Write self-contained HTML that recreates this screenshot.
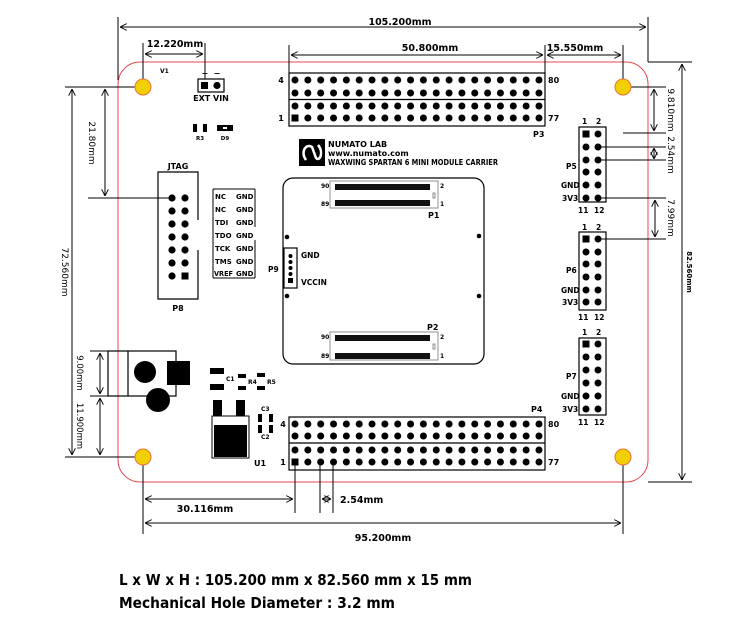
<!DOCTYPE html>
<html><head><meta charset="utf-8"><style>
html,body{margin:0;padding:0;background:#fff;}
svg{display:block;}
text{font-family:"DejaVu Sans","Liberation Sans",sans-serif;font-weight:bold;fill:#000;}
.r{font-weight:normal;}
</style></head><body>
<svg id="s" width="754" height="630" viewBox="0 0 754 630" xmlns="http://www.w3.org/2000/svg">
<defs>
<marker id="a" viewBox="0 0 10 10" refX="10" refY="5" markerWidth="7" markerHeight="7" orient="auto-start-reverse"><path d="M0,0 L10,5 L0,10" fill="none" stroke="#000" stroke-width="1.3"/></marker>
</defs>
<rect width="754" height="630" fill="#fff"/>
<rect x="118" y="62" width="530" height="420" rx="22" fill="none" stroke="#e8474c" stroke-width="1"/>
<g stroke="#000" stroke-width="1" fill="none">
<line x1="118" y1="17" x2="118" y2="80"/>
<line x1="648" y1="17" x2="648" y2="62"/>
<line x1="120" y1="27" x2="646" y2="27" marker-start="url(#a)" marker-end="url(#a)"/>
<line x1="143" y1="43" x2="143" y2="80"/>
<line x1="205" y1="43" x2="205" y2="79"/>
<line x1="145" y1="54" x2="203" y2="54" marker-start="url(#a)" marker-end="url(#a)"/>
<line x1="289" y1="45" x2="289" y2="73"/>
<line x1="545" y1="45" x2="545" y2="73"/>
<line x1="623" y1="45" x2="623" y2="80"/>
<line x1="291" y1="55" x2="543" y2="55" marker-start="url(#a)" marker-end="url(#a)"/>
<line x1="547" y1="55" x2="621" y2="55" marker-start="url(#a)" marker-end="url(#a)"/>
<line x1="631" y1="87" x2="666" y2="87"/>
<line x1="623" y1="133" x2="666" y2="133"/>
<line x1="654" y1="89" x2="654" y2="131" marker-start="url(#a)" marker-end="url(#a)"/>
<line x1="598" y1="147" x2="666" y2="147"/>
<line x1="598" y1="160" x2="666" y2="160"/>
<line x1="654" y1="148" x2="654" y2="159" marker-start="url(#a)" marker-end="url(#a)"/>
<line x1="598" y1="198" x2="666" y2="198"/>
<line x1="598" y1="239" x2="666" y2="239"/>
<line x1="655" y1="200" x2="655" y2="237" marker-start="url(#a)" marker-end="url(#a)"/>
<line x1="648" y1="62" x2="692" y2="62"/>
<line x1="648" y1="482" x2="692" y2="482"/>
<line x1="682" y1="64" x2="682" y2="480" marker-start="url(#a)" marker-end="url(#a)"/>
<line x1="65" y1="87" x2="135" y2="87"/>
<line x1="65" y1="457" x2="135" y2="457"/>
<line x1="72" y1="89" x2="72" y2="455" marker-start="url(#a)" marker-end="url(#a)"/>
<line x1="105" y1="89" x2="105" y2="196" marker-start="url(#a)" marker-end="url(#a)"/>
<line x1="88" y1="198" x2="172" y2="198"/>
<line x1="90" y1="351" x2="108" y2="351"/>
<line x1="90" y1="396" x2="130" y2="396"/>
<line x1="100" y1="353" x2="100" y2="394" marker-start="url(#a)" marker-end="url(#a)"/>
<line x1="100" y1="398" x2="100" y2="455" marker-start="url(#a)" marker-end="url(#a)"/>
<line x1="143" y1="465" x2="143" y2="534"/>
<line x1="623" y1="465" x2="623" y2="534"/>
<line x1="295" y1="462" x2="295" y2="513"/>
<line x1="320" y1="462" x2="320" y2="513"/>
<line x1="333" y1="462" x2="333" y2="513"/>
<line x1="145" y1="499" x2="293" y2="499" marker-start="url(#a)" marker-end="url(#a)"/>
<line x1="322" y1="499" x2="331" y2="499" marker-start="url(#a)" marker-end="url(#a)"/>
<line x1="145" y1="523" x2="621" y2="523" marker-start="url(#a)" marker-end="url(#a)"/>
</g>
<g fill="#f2cf00" stroke="#e8713c" stroke-width="1">
<circle cx="143" cy="87" r="8"/><circle cx="623" cy="87" r="8"/>
<circle cx="143" cy="457" r="8"/><circle cx="623" cy="457" r="8"/>
</g>
<g font-size="9.5">
<text x="400" y="25" text-anchor="middle">105.200mm</text>
<text x="175" y="47" text-anchor="middle">12.220mm</text>
<text x="430" y="51" text-anchor="middle">50.800mm</text>
<text x="575" y="51" text-anchor="middle">15.550mm</text>
<text x="205" y="512" text-anchor="middle">30.116mm</text>
<text x="340" y="503">2.54mm</text>
<text x="383" y="541" text-anchor="middle">95.200mm</text>
</g>
<g font-size="9" class="r">
<text class="r" transform="translate(668,110) rotate(90)" text-anchor="middle">9.810mm</text>
<text class="r" transform="translate(668,155) rotate(90)" text-anchor="middle">2.54mm</text>
<text class="r" transform="translate(668,218) rotate(90)" text-anchor="middle">7.99mm</text>
<text transform="translate(687,272) rotate(90)" text-anchor="middle" font-size="7">82.560mm</text>
<text class="r" transform="translate(62,272) rotate(90)" text-anchor="middle">72.560mm</text>
<text class="r" transform="translate(89,143) rotate(90)" text-anchor="middle">21.80mm</text>
<text class="r" transform="translate(77,373) rotate(90)" text-anchor="middle" font-size="8.5">9.00mm</text>
<text class="r" transform="translate(77,426) rotate(90)" text-anchor="middle" font-size="8.5">11.900mm</text>
</g>
<g font-size="8">
<text x="160" y="73" font-size="6">V1</text>
<text x="205" y="76" text-anchor="middle">+</text>
<text x="217" y="76" text-anchor="middle">−</text>
<text x="211" y="101" text-anchor="middle">EXT VIN</text>
</g>
<rect x="198" y="79" width="26" height="13" fill="none" stroke="#000" stroke-width="1.2"/>
<rect x="201" y="82" width="7" height="7"/><circle cx="217" cy="85.5" r="3.6"/>
<rect x="193" y="124" width="4" height="8"/><rect x="203" y="124" width="4" height="8"/>
<rect x="217" y="125" width="16" height="6"/><rect x="223" y="127" width="4" height="2" fill="#fff"/>
<text x="200" y="140" font-size="5.5" text-anchor="middle">R3</text>
<text x="225" y="140" font-size="5.5" text-anchor="middle">D9</text>
<rect x="299" y="139" width="26" height="27"/>
<path d="M306,160 C300,152 306,143 312,147 L316,158 C320,162 324,152 318,145" fill="none" stroke="#fff" stroke-width="2.5"/>
<g font-size="8" font-family="DejaVu Sans Mono,Liberation Mono,monospace">
<text x="328" y="147">NUMATO LAB</text>
<text x="328" y="156">www.numato.com</text>
<text x="328" y="165" textLength="170" lengthAdjust="spacingAndGlyphs">WAXWING SPARTAN 6 MINI MODULE CARRIER</text>
</g>
<g fill="none" stroke="#000" stroke-width="1.2">
<rect x="289" y="73" width="256" height="53"/><line x1="289" y1="99.5" x2="545" y2="99.5"/>
<rect x="289" y="417" width="256" height="53"/><line x1="289" y1="443" x2="545" y2="443"/>
</g>
<g font-size="8">
<text x="281" y="83" text-anchor="middle">4</text><text x="281" y="121" text-anchor="middle">1</text>
<text x="548" y="83">80</text><text x="548" y="121">77</text><text x="533" y="137">P3</text>
<text x="283" y="427" text-anchor="middle">4</text><text x="283" y="465" text-anchor="middle">1</text>
<text x="548" y="427">80</text><text x="548" y="465">77</text><text x="531" y="412">P4</text>
</g>
<g id="dots"></g>
<text x="178" y="169" font-size="8" text-anchor="middle">JTAG</text>
<text x="178" y="311" font-size="8" text-anchor="middle">P8</text>
<path d="M198,220 V172 H158 V299 H198 V250" fill="none" stroke="#000" stroke-width="1.2"/>
<g fill="none" stroke="#000" stroke-width="1"><line x1="213" y1="189" x2="213" y2="278"/><line x1="213" y1="278" x2="255" y2="278"/><line x1="213" y1="189" x2="255" y2="189"/><line x1="255" y1="189" x2="255" y2="227"/><line x1="255" y1="240" x2="255" y2="278"/></g>
<g font-size="7">
<text x="215" y="199">NC</text><text x="236" y="199">GND</text>
<text x="215" y="212">NC</text><text x="236" y="212">GND</text>
<text x="215" y="225">TDI</text><text x="236" y="225">GND</text>
<text x="215" y="238">TDO</text><text x="236" y="238">GND</text>
<text x="215" y="251">TCK</text><text x="236" y="251">GND</text>
<text x="215" y="264">TMS</text><text x="236" y="264">GND</text>
<text x="214" y="276" textLength="19" lengthAdjust="spacingAndGlyphs">VREF</text><text x="236" y="276">GND</text>
</g>
<rect x="283" y="178" width="201" height="186" rx="10" fill="none" stroke="#000" stroke-width="1.2"/>
<g fill="none" stroke="#777" stroke-width="0.8"><rect x="330" y="181" width="108" height="27"/><rect x="330" y="332" width="108" height="28"/>
<rect x="433" y="193" width="2" height="5"/><rect x="433" y="344" width="2" height="5"/></g>
<g fill="#111"><rect x="335" y="184" width="95" height="6"/><rect x="335" y="200" width="95" height="6"/><rect x="335" y="335" width="95" height="6"/><rect x="335" y="353" width="95" height="6"/></g>
<g font-size="6"><text x="321" y="188">90</text><text x="321" y="206">89</text><text x="440" y="188">2</text><text x="440" y="206">1</text>
<text x="321" y="339">90</text><text x="321" y="358">89</text><text x="440" y="339">2</text><text x="440" y="358">1</text></g>
<text x="428" y="218" font-size="8">P1</text><text x="427" y="330" font-size="8">P2</text>
<circle cx="287" cy="237" r="2.3"/><circle cx="287" cy="296" r="2.3"/><circle cx="479" cy="236" r="2.3"/><circle cx="479" cy="296" r="2.3"/>
<rect x="284" y="248" width="13" height="40" fill="none" stroke="#000" stroke-width="1.2"/>
<g><circle cx="290.5" cy="256" r="2"/><circle cx="290.5" cy="262" r="2"/><circle cx="290.5" cy="268" r="2"/><circle cx="290.5" cy="274" r="2"/><rect x="288" y="278" width="5" height="5"/></g>
<g font-size="7.5"><text x="301" y="258">GND</text><text x="301" y="285">VCCIN</text><text x="268" y="272">P9</text></g>
<g fill="none" stroke="#000" stroke-width="1.2">
<rect x="579" y="127" width="27" height="75"/><rect x="579" y="232" width="27" height="78"/><rect x="579" y="338" width="27" height="77"/>
</g>
<g font-size="7.5">
<text x="582" y="124">1</text><text x="596" y="124">2</text><text x="578" y="213">11</text><text x="594" y="213">12</text>
<text x="566" y="169">P5</text><text x="561" y="188">GND</text><text x="562" y="201">3V3</text>
<text x="582" y="230">1</text><text x="596" y="230">2</text><text x="578" y="320">11</text><text x="594" y="320">12</text>
<text x="566" y="273">P6</text><text x="561" y="293">GND</text><text x="562" y="305">3V3</text>
<text x="582" y="335">1</text><text x="596" y="335">2</text><text x="578" y="425">11</text><text x="594" y="425">12</text>
<text x="566" y="379">P7</text><text x="561" y="399">GND</text><text x="562" y="412">3V3</text>
</g>
<rect x="108" y="351" width="68" height="45" fill="none" stroke="#000" stroke-width="1.2"/>
<line x1="128" y1="351" x2="128" y2="396" stroke="#000" stroke-width="1.2"/>
<circle cx="145" cy="372" r="11"/><rect x="167" y="361" width="23" height="24"/><circle cx="158" cy="400" r="12"/>
<rect x="210" y="368" width="14" height="6"/><rect x="210" y="384" width="14" height="6"/>
<rect x="238" y="374" width="8" height="4"/><rect x="238" y="386" width="8" height="4"/>
<rect x="257" y="373" width="8" height="4"/><rect x="257" y="386" width="8" height="4"/>
<g font-size="6"><text x="226" y="381">C1</text><text x="248" y="384">R4</text><text x="267" y="384">R5</text><text x="261" y="411">C3</text><text x="261" y="439">C2</text></g>
<rect x="258" y="414" width="4" height="8"/><rect x="269" y="414" width="4" height="8"/>
<rect x="258" y="425" width="4" height="8"/><rect x="269" y="425" width="4" height="8"/>
<rect x="213" y="400" width="9" height="16"/><rect x="236" y="400" width="9" height="16"/>
<rect x="212" y="416" width="37" height="42" fill="none" stroke="#000" stroke-width="1"/>
<rect x="214" y="425" width="33" height="32"/>
<text x="254" y="466" font-size="8">U1</text>
<g font-family="Liberation Sans,sans-serif" font-weight="bold" font-size="15.5">
<text x="119" y="585" textLength="353" lengthAdjust="spacingAndGlyphs">L x W x H : 105.200 mm x 82.560 mm x 15 mm</text>
<text x="119" y="608" textLength="276" lengthAdjust="spacingAndGlyphs">Mechanical Hole Diameter : 3.2 mm</text>
</g>
</svg>
<script>
var NS="http://www.w3.org/2000/svg",g=document.getElementById("dots");
function c(x,y,r){var e=document.createElementNS(NS,"circle");e.setAttribute("cx",x);e.setAttribute("cy",y);e.setAttribute("r",r);g.appendChild(e);}
function sq(x,y,s){var e=document.createElementNS(NS,"rect");e.setAttribute("x",x-s/2);e.setAttribute("y",y-s/2);e.setAttribute("width",s);e.setAttribute("height",s);g.appendChild(e);}
function hdr(rows){for(var r=0;r<4;r++)for(var i=0;i<20;i++){var x=295+i*12.84;if(r==3&&i==0)sq(x,rows[r],7);else c(x,rows[r],3.5);}}
hdr([80,93,106,118]);hdr([424,436,450,462]);
var jr=[198,211,224,237,250,263,276];
for(var i=0;i<7;i++){c(172,jr[i],3.6);if(i==6)sq(185,jr[i],7);else c(185,jr[i],3.6);}
function p(rows){for(var i=0;i<6;i++){if(i==0)sq(586,rows[i],7);else c(586,rows[i],3.5);c(598,rows[i],3.5);}}
p([134,147,160,172,185,198]);p([239,252,264,277,290,302]);p([344,357,370,383,396,409]);
</script>
</body></html>
